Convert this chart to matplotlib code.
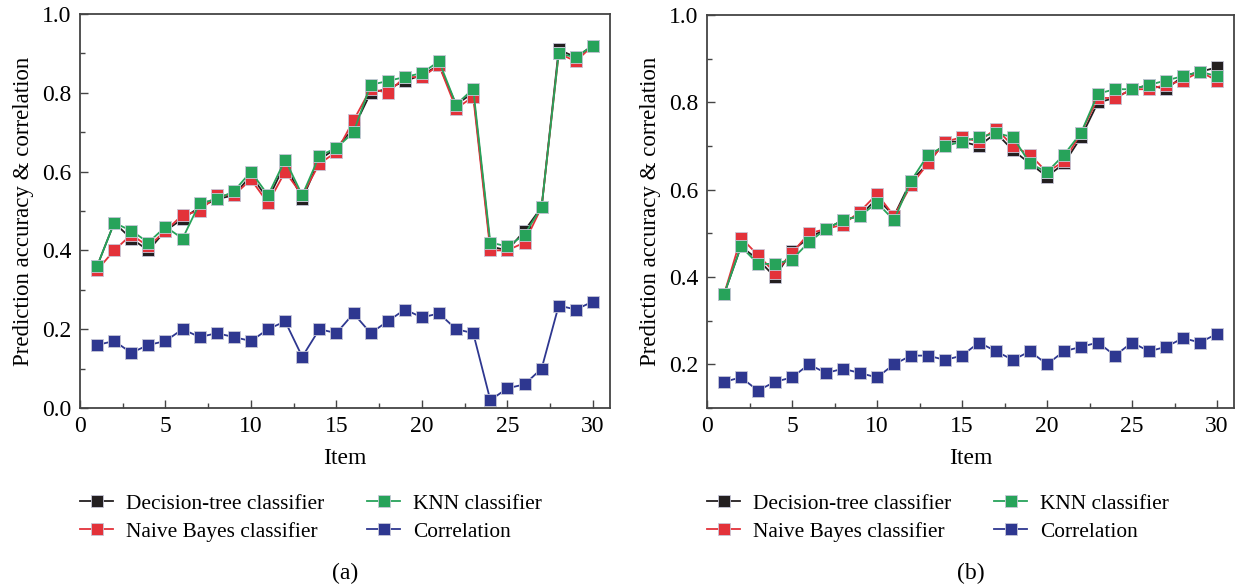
import matplotlib
matplotlib.use("Agg")
import matplotlib.pyplot as plt
from matplotlib.ticker import MultipleLocator
import numpy as np

items = list(range(1, 31))

# Panel (a)
a_dt = [0.36, 0.47, 0.43, 0.40, 0.45, 0.48, 0.51, 0.53, 0.54, 0.59,
        0.53, 0.62, 0.53, 0.63, 0.66, 0.71, 0.80, 0.81, 0.83, 0.845,
        0.87, 0.77, 0.80, 0.41, 0.40, 0.45, 0.51, 0.91, 0.89, 0.92]
a_nb = [0.35, 0.40, 0.44, 0.41, 0.45, 0.49, 0.50, 0.54, 0.54, 0.58,
        0.52, 0.60, 0.54, 0.62, 0.65, 0.73, 0.81, 0.80, 0.84, 0.84,
        0.87, 0.76, 0.79, 0.40, 0.40, 0.42, 0.51, 0.90, 0.88, 0.92]
a_knn = [0.36, 0.47, 0.45, 0.42, 0.46, 0.43, 0.52, 0.53, 0.55, 0.60,
         0.54, 0.63, 0.54, 0.64, 0.66, 0.70, 0.82, 0.83, 0.84, 0.85,
         0.88, 0.77, 0.81, 0.42, 0.41, 0.44, 0.51, 0.90, 0.89, 0.92]
a_corr = [0.16, 0.17, 0.14, 0.16, 0.17, 0.20, 0.18, 0.19, 0.18, 0.17,
          0.20, 0.22, 0.13, 0.20, 0.19, 0.24, 0.19, 0.22, 0.25, 0.23,
          0.24, 0.20, 0.19, 0.02, 0.05, 0.06, 0.10, 0.26, 0.25, 0.27]

# Panel (b)
b_dt = [0.36, 0.47, 0.44, 0.40, 0.46, 0.49, 0.51, 0.53, 0.54, 0.58,
        0.54, 0.62, 0.66, 0.71, 0.71, 0.70, 0.73, 0.69, 0.66, 0.63,
        0.66, 0.72, 0.80, 0.81, 0.83, 0.84, 0.83, 0.86, 0.87, 0.88]
b_nb = [0.36, 0.49, 0.45, 0.41, 0.455, 0.50, 0.51, 0.52, 0.55, 0.59,
        0.54, 0.61, 0.66, 0.71, 0.72, 0.71, 0.74, 0.70, 0.68, 0.64,
        0.665, 0.73, 0.81, 0.81, 0.83, 0.83, 0.84, 0.85, 0.87, 0.85]
b_knn = [0.36, 0.47, 0.43, 0.43, 0.44, 0.48, 0.51, 0.53, 0.54, 0.57,
         0.53, 0.62, 0.68, 0.70, 0.71, 0.72, 0.73, 0.72, 0.66, 0.64,
         0.68, 0.73, 0.82, 0.83, 0.83, 0.84, 0.85, 0.86, 0.87, 0.86]
b_corr = [0.16, 0.17, 0.14, 0.16, 0.17, 0.20, 0.18, 0.19, 0.18, 0.17,
          0.20, 0.22, 0.22, 0.21, 0.22, 0.25, 0.23, 0.21, 0.23, 0.20,
          0.23, 0.24, 0.25, 0.22, 0.25, 0.23, 0.24, 0.26, 0.25, 0.27]

labels = ["Decision-tree classifier", "Naive Bayes classifier", "KNN classifier", "Correlation"]
colors = ["#231f20", "#e3323a", "#27a35a", "#2e3790"]

plt.rcParams['font.family'] = ['Liberation Serif', 'DejaVu Serif']
plt.rcParams['font.size'] = 16

fig = plt.figure(figsize=(12.36, 5.88), dpi=100)
W, H = 1236, 588

def make_ax(left, right, top, bottom):
    return fig.add_axes([left / W, 1 - bottom / H, (right - left) / W, (bottom - top) / H])

ax_a = make_ax(80, 610, 14, 408)
ax_b = make_ax(707, 1234, 15, 408)

panels = [
    (ax_a, [a_dt, a_nb, a_knn, a_corr], (0.0, 1.0), 0.0, "(a)"),
    (ax_b, [b_dt, b_nb, b_knn, b_corr], (0.1, 1.0), 0.2, "(b)"),
]

for ax, series, ylim, ystart, cap in panels:
    handles = []
    for vals, lab, col in zip(series, labels, colors):
        h, = ax.plot(items, vals, color=col, lw=1.3, marker='s', markersize=8,
                     markerfacecolor=col, markeredgecolor='#c8c8d8', markeredgewidth=0.6,
                     label=lab)
        handles.append(h)
    ax.set_xlim(0, 31)
    ax.set_ylim(*ylim)
    ax.xaxis.set_minor_locator(MultipleLocator(2.5))
    ax.yaxis.set_minor_locator(MultipleLocator(0.1))
    ax.set_xticks(np.arange(0, 31, 5))
    ax.set_yticks(np.arange(ystart, 1.01, 0.2))
    ax.yaxis.set_major_formatter(matplotlib.ticker.FormatStrFormatter('%.1f'))
    ax.tick_params(which='both', direction='in', top=False, right=False, labelsize=17, pad=6)
    ax.tick_params(which='major', length=6, width=1.0, color='#444444')
    ax.tick_params(which='minor', length=3.5, width=1.0, color='#444444')
    for s in ax.spines.values():
        s.set_linewidth(1.3)
        s.set_color('#444444')
    ax.set_xlabel("Item", fontsize=17, labelpad=8)
    ax.set_ylabel("Prediction accuracy & correlation", fontsize=16.5, labelpad=6)
    ax.legend(handles=handles, loc='upper left', bbox_to_anchor=(0.0, -0.218), ncol=2,
              frameon=False, fontsize=15.4, handlelength=1.55, handletextpad=0.6,
              columnspacing=2.0, labelspacing=0.38, borderaxespad=0, borderpad=0)
    ax.text(0.5, -0.42, cap, transform=ax.transAxes, ha='center', va='center', fontsize=17)

fig.savefig("out.png", dpi=100)
